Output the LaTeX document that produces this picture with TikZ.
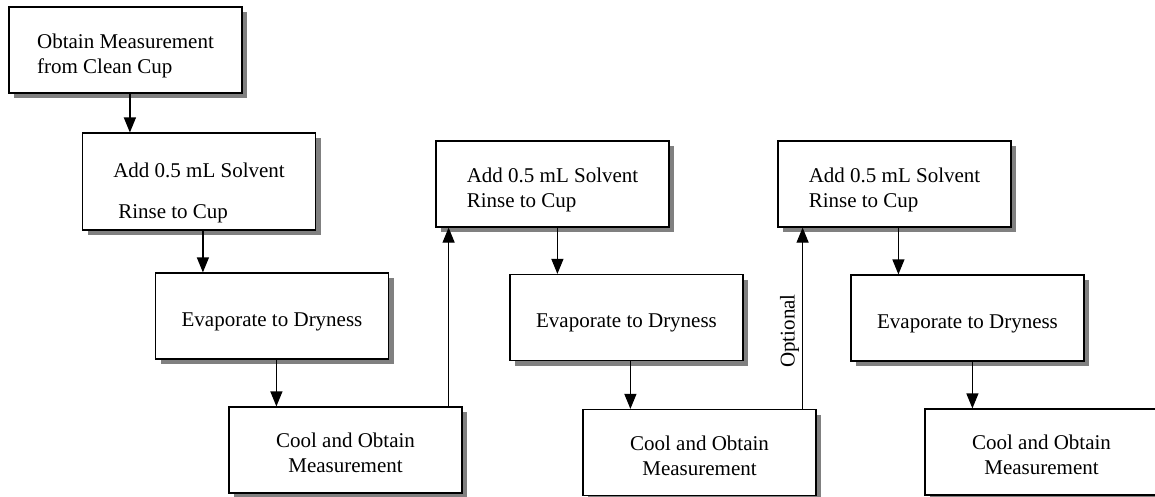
\documentclass[tikz,border=0pt]{standalone}
\usepackage{fontspec}
\setmainfont{Liberation Serif}
\usetikzlibrary{arrows.meta,shadows}
\newcommand{\tstrut}[1]{\rule{0pt}{#1}}
\tikzset{box/.style={draw,fill=white,line width=.6pt,minimum width=116.5pt,minimum height=43pt,
  align=center,drop shadow={shadow xshift=2.5pt,shadow yshift=-2.5pt,fill=black!50,opacity=1}},
 lbox/.style={box,align=left},
 arr/.style={-{Triangle[length=7.5pt,width=6pt]},line width=.6pt},
 every node/.style={font=\fontsize{10.5}{12.5}\selectfont}}
\begin{document}
\begin{tikzpicture}[x=.5pt,y=-.5pt]
\useasboundingbox (0,0) rectangle (1155,497);
\clip (0,0) rectangle (1155,497);
% first column
\node[lbox] (ob) at (125.5,50) {\tstrut{13pt}Obtain Measurement\\from Clean Cup};
\node[lbox] (ad1) at (199,181.5) {\tstrut{19pt}Add 0.5 mL Solvent\\[8pt]\hspace*{2.5pt}Rinse to Cup};
\node[box] (ev1) at (272,316) {\tstrut{12.5pt}Evaporate to Dryness};
\node[box] (co1) at (345.5,450) {\tstrut{10.5pt}Cool and Obtain\\Measurement};
% second column
\node[lbox] (ad2) at (552.5,184) {\tstrut{13pt}Add 0.5 mL Solvent\\Rinse to Cup};
\node[box] (ev2) at (626.5,317.5) {\tstrut{12.5pt}Evaporate to Dryness};
\node[box] (co2) at (699.5,452.5) {\tstrut{10.5pt}Cool and Obtain\\Measurement};
% third column
\node[lbox] (ad3) at (894.5,184) {\tstrut{13pt}Add 0.5 mL Solvent\\Rinse to Cup};
\node[box] (ev3) at (967.5,318) {\tstrut{12.5pt}Evaporate to Dryness};
\node[box] (co3) at (1041.5,452) {\tstrut{10.5pt}Cool and Obtain\\Measurement};
% down arrows
\draw[arr] ([xshift=24pt]ad1.north west |- ob.south) -- ([xshift=24pt]ad1.north west);
\draw[arr] ([xshift=24pt]ev1.north west |- ad1.south) -- ([xshift=24pt]ev1.north west);
\draw[arr] ([xshift=24pt]co1.north west |- ev1.south) -- ([xshift=24pt]co1.north west);
\draw[arr] ([xshift=24pt]ev2.north west |- ad2.south) -- ([xshift=24pt]ev2.north west);
\draw[arr] ([xshift=24pt]co2.north west |- ev2.south) -- ([xshift=24pt]co2.north west);
\draw[arr] ([xshift=24pt]ev3.north west |- ad3.south) -- ([xshift=24pt]ev3.north west);
\draw[arr] ([xshift=24pt]co3.north west |- ev3.south) -- ([xshift=24pt]co3.north west);
% repeat loops
\draw[arr] ([xshift=-7pt]co1.north east) -- ([xshift=-7pt]co1.north east |- ad2.south);
\draw[arr] ([xshift=-7pt]co2.north east) -- ([xshift=-7pt]co2.north east |- ad3.south)
  node[pos=.43,sloped,above,inner sep=1.5pt]{Optional};
\end{tikzpicture}
\end{document}
